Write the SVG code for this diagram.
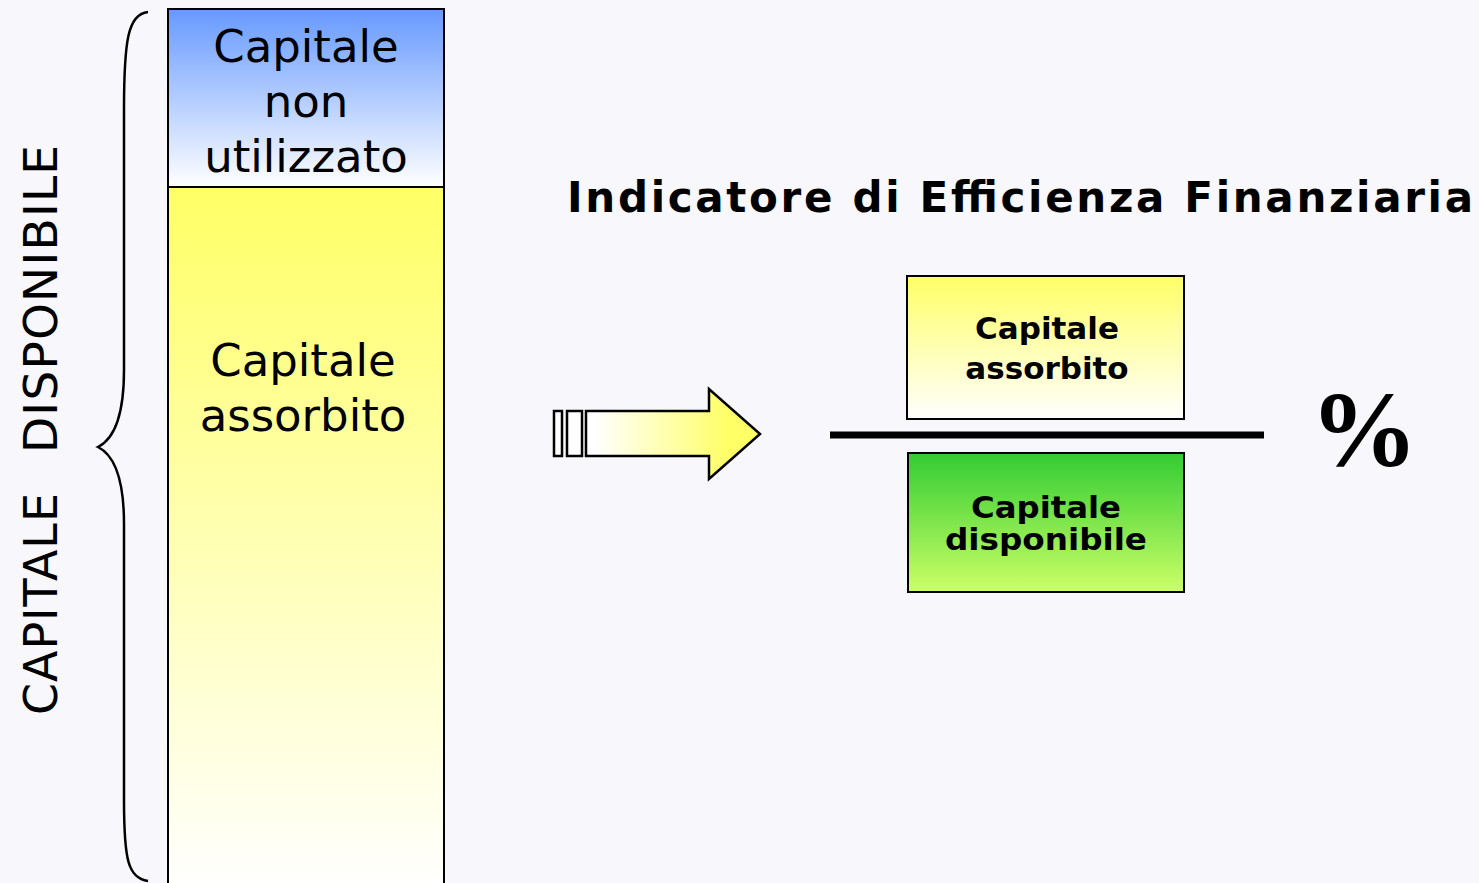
<svg xmlns="http://www.w3.org/2000/svg" width="1479" height="883" viewBox="0 0 1479 883">
<defs>
<linearGradient id="gBlue" x1="0" y1="0" x2="0" y2="1"><stop offset="0" stop-color="#6699ff"/><stop offset="1" stop-color="#ffffff"/></linearGradient>
<linearGradient id="gYel" x1="0" y1="0" x2="0" y2="1"><stop offset="0" stop-color="#ffff66"/><stop offset="1" stop-color="#ffffff"/></linearGradient>
<linearGradient id="gGreen" x1="0" y1="0" x2="0" y2="1"><stop offset="0" stop-color="#33cc33"/><stop offset="1" stop-color="#ccff66"/></linearGradient>
<linearGradient id="gArrow" gradientUnits="userSpaceOnUse" x1="553" y1="0" x2="760" y2="0"><stop offset="0.2" stop-color="#ffffff"/><stop offset="0.85" stop-color="#ffff66"/></linearGradient>
<style>
.t{font-family:"DejaVu Sans","Verdana",sans-serif;fill:#000;text-anchor:middle}
.b{font-weight:bold}
.box{stroke:#000;stroke-width:2}
</style>
</defs>
<rect width="1479" height="883" fill="#f8f7fb"/>
<g id="brace"><path d="M148,12 C128,14 124,40 124,110 L124,370 C124,420 112,440 98,447 C112,454 124,474 124,524 L124,800 C124,860 128,878 148,881" fill="none" stroke="#000" stroke-width="2.5"/></g>
<g id="label-disponibile">
<text class="t" transform="translate(57,604) rotate(-90)" font-size="46" textLength="222" lengthAdjust="spacing">CAPITALE</text>
<text class="t" transform="translate(57,299) rotate(-90)" font-size="47" textLength="308" lengthAdjust="spacing">DISPONIBILE</text>
</g>
<g id="col-non-utilizzato">
<rect x="168" y="9" width="276" height="178" fill="url(#gBlue)" class="box"/>
<text class="t" font-size="45" x="306" y="62">Capitale</text>
<text class="t" font-size="45" x="306" y="117">non</text>
<text class="t" font-size="45" x="306" y="172">utilizzato</text>
</g>
<g id="col-assorbito">
<rect x="168" y="187" width="276" height="700" fill="url(#gYel)" class="box"/>
<text class="t" font-size="45" x="303" y="376">Capitale</text>
<text class="t" font-size="45" x="303" y="431">assorbito</text>
</g>
<g id="title"><text class="t b" font-size="42" x="1020" y="212" textLength="906" lengthAdjust="spacing">Indicatore di Efficienza Finanziaria</text></g>
<g id="arrow" fill="url(#gArrow)" stroke="#000" stroke-width="2.5" stroke-linejoin="miter">
<rect x="554" y="411" width="8" height="45"/>
<rect x="567" y="411" width="15" height="45"/>
<path d="M586,411 L709,411 L709,389 L760,434 L709,479 L709,456 L586,456 Z"/>
</g>
<g id="connectors"><line x1="830" y1="435" x2="1264" y2="435" stroke="#000" stroke-width="7"/></g>
<g id="num">
<rect x="907" y="276" width="277" height="143" fill="url(#gYel)" class="box"/>
<text class="t b" font-size="31" x="1047" y="339">Capitale</text>
<text class="t b" font-size="31" x="1047" y="379">assorbito</text>
</g>
<g id="den">
<rect x="908" y="453" width="276" height="139" fill="url(#gGreen)" class="box"/>
<text class="t b" font-size="30" x="1046" y="518" textLength="150" lengthAdjust="spacingAndGlyphs">Capitale</text>
<text class="t b" font-size="30" x="1046" y="550" textLength="202" lengthAdjust="spacingAndGlyphs">disponibile</text>
</g>
<g id="percent"><text x="1364" y="466" style="font-family:'Liberation Serif','Times New Roman',serif;font-weight:bold" font-size="108" text-anchor="middle">%</text></g>
</svg>
